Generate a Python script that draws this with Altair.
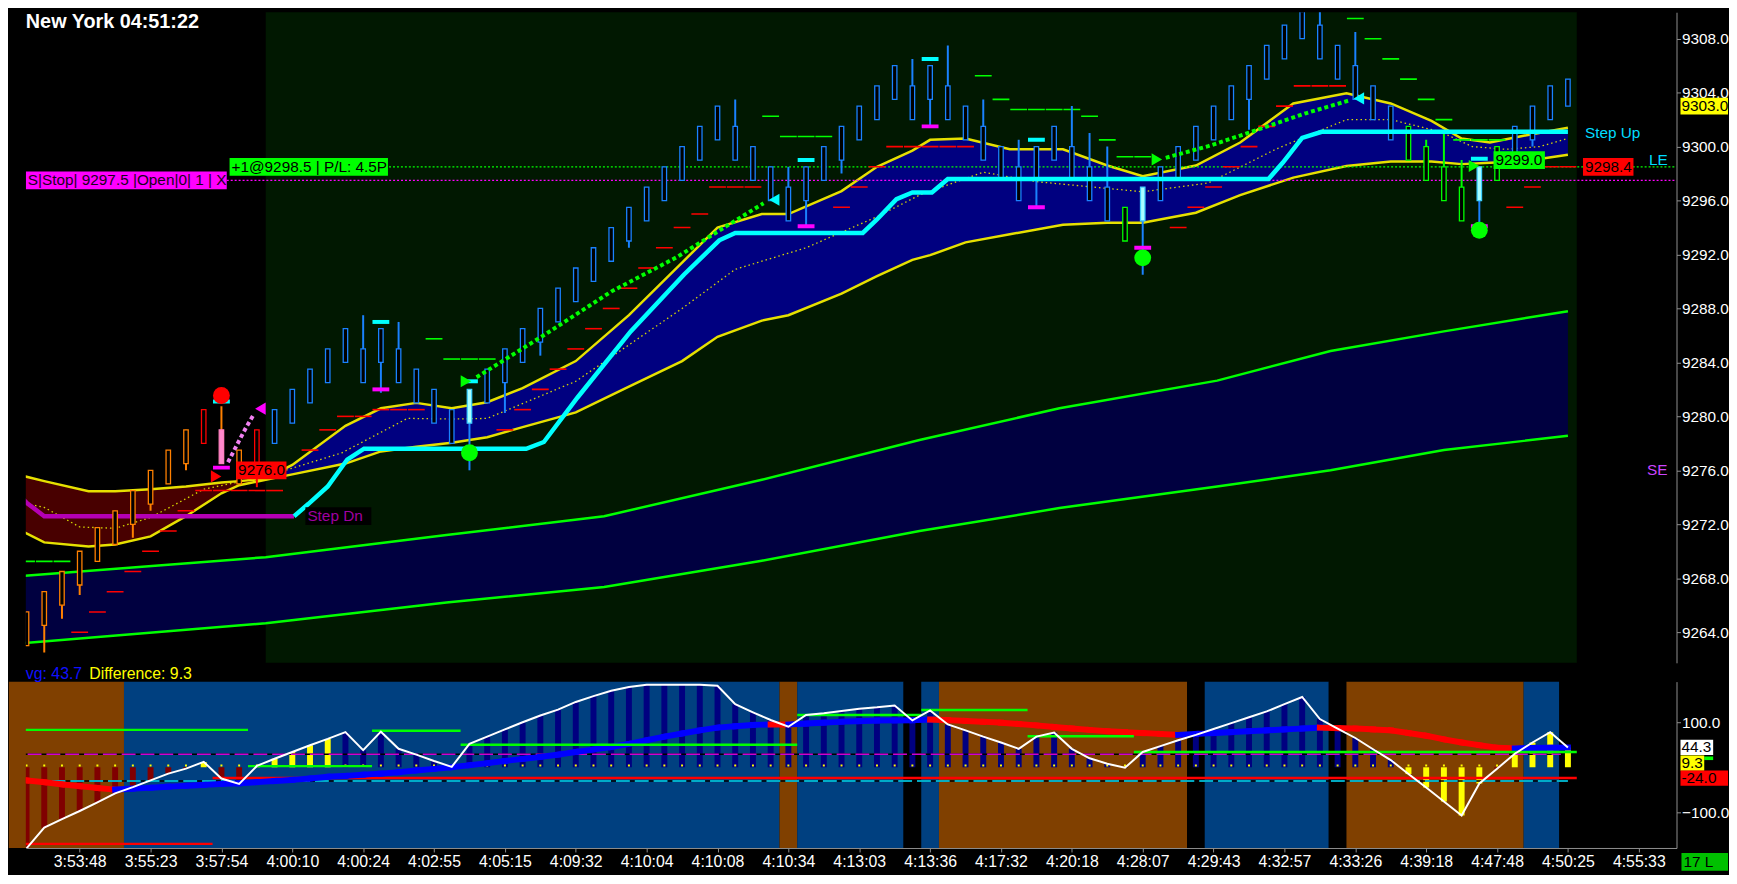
import altair as alt
import pandas as pd

FONT = "Liberation Sans"
PLOT_W = 1667
PRICE_H = 657
OSC_H = 168

# time axis: one label every 4 range bars
tick_bars = [4, 8, 12, 16, 20, 24, 28, 32, 36, 40, 44, 48, 52, 56, 60, 64, 68, 72, 76, 80, 84, 88, 92]
tick_labels = ["3:53:48", "3:55:23", "3:57:54", "4:00:10", "4:00:24", "4:02:55", "4:05:15",
               "4:09:32", "4:10:04", "4:10:08", "4:10:34", "4:13:03", "4:13:36", "4:17:32",
               "4:20:18", "4:28:07", "4:29:43", "4:32:57", "4:33:26", "4:39:18", "4:47:48",
               "4:50:25", "4:55:33"]
price_ticks = [9264, 9268, 9272, 9276, 9280, 9284, 9288, 9292, 9296, 9300, 9304, 9308]
osc_ticks = [-100, 100]

# ---- price bars
bar_j = list(range(1, 89))
bar_open = [9263.0, 9264.5, 9266.0, 9267.5, 9269.25, 9270.5, 9272.0, 9273.5, 9275.0, 9276.5,
            9278.0, 9276.5, 9275.0, 9276.5, 9278.0, 9279.5, 9281.0, 9282.5, 9284.0, 9282.5,
            9284.0, 9282.5, 9281.0, 9279.5, 9278.0, 9279.5, 9281.0, 9282.5, 9284.0, 9285.5,
            9287.0, 9288.5, 9290.0, 9291.5, 9293.0, 9294.5, 9296.0, 9297.5, 9299.0, 9300.5,
            9299.0, 9297.5, 9296.0, 9294.5, 9296.0, 9297.5, 9299.0, 9300.5, 9302.0, 9303.5,
            9302.0, 9303.5, 9302.0, 9300.5, 9299.0, 9297.5, 9296.0, 9297.5, 9299.0, 9297.5,
            9296.0, 9294.5, 9293.0, 9294.5, 9296.0, 9297.5, 9299.0, 9300.5, 9302.0, 9303.5,
            9305.0, 9306.5, 9308.0, 9306.5, 9305.0, 9303.5, 9302.0, 9300.5, 9299.0, 9297.5,
            9296.0, 9294.5, 9296.0, 9297.5, 9299.0, 9300.5, 9302.0, 9303.0]
bar_close = [9265.5, 9267.0, 9268.5, 9270.0, 9271.75, 9273.0, 9274.5, 9276.0, 9277.5, 9279.0,
             9280.5, 9279.0, 9277.5, 9279.0, 9280.5, 9282.0, 9283.5, 9285.0, 9286.5, 9285.0,
             9286.5, 9285.0, 9283.5, 9282.0, 9280.5, 9282.0, 9283.5, 9285.0, 9286.5, 9288.0,
             9289.5, 9291.0, 9292.5, 9294.0, 9295.5, 9297.0, 9298.5, 9300.0, 9301.5, 9303.0,
             9301.5, 9300.0, 9298.5, 9297.0, 9298.5, 9300.0, 9301.5, 9303.0, 9304.5, 9306.0,
             9304.5, 9306.0, 9304.5, 9303.0, 9301.5, 9300.0, 9298.5, 9300.0, 9301.5, 9300.0,
             9298.5, 9297.0, 9295.5, 9297.0, 9298.5, 9300.0, 9301.5, 9303.0, 9304.5, 9306.0,
             9307.5, 9309.0, 9310.5, 9309.0, 9307.5, 9306.0, 9304.5, 9303.0, 9301.5, 9300.0,
             9298.5, 9297.0, 9298.5, 9300.0, 9301.5, 9303.0, 9304.5, 9305.0]
bar_high = [9265.5, 9267.0, 9268.5, 9270.0, 9271.75, 9273.0, 9274.5, 9276.0, 9277.5, 9279.0,
            9280.5, 9280.75, 9277.5, 9279.0, 9280.5, 9282.0, 9283.5, 9285.0, 9286.5, 9287.5,
            9286.5, 9287.0, 9283.5, 9282.0, 9280.5, 9282.0, 9283.5, 9285.0, 9286.5, 9288.0,
            9289.5, 9291.0, 9292.5, 9294.0, 9295.5, 9297.0, 9298.5, 9300.0, 9301.5, 9303.0,
            9303.5, 9300.0, 9298.5, 9298.5, 9298.5, 9300.0, 9301.5, 9303.0, 9304.5, 9306.0,
            9306.5, 9306.0, 9307.5, 9303.0, 9303.5, 9300.0, 9300.5, 9300.0, 9301.5, 9303.0,
            9301.0, 9300.0, 9295.5, 9297.0, 9298.5, 9300.0, 9301.5, 9303.0, 9304.5, 9306.0,
            9307.5, 9309.0, 9310.5, 9311.5, 9307.5, 9308.5, 9304.5, 9303.0, 9301.5, 9300.5,
            9301.0, 9299.0, 9298.5, 9300.0, 9301.5, 9303.0, 9304.5, 9305.0]
bar_low = [9263.0, 9262.5, 9265.0, 9266.75, 9269.25, 9270.5, 9271.0, 9273.0, 9275.0, 9276.0,
           9278.0, 9276.5, 9275.0, 9274.75, 9278.0, 9279.5, 9281.0, 9282.5, 9284.0, 9282.5,
           9281.75, 9282.5, 9281.0, 9279.5, 9278.0, 9276.0, 9281.0, 9280.25, 9284.0, 9284.5,
           9287.0, 9288.5, 9290.0, 9291.5, 9292.5, 9294.5, 9296.0, 9297.5, 9299.0, 9300.5,
           9299.0, 9297.5, 9296.0, 9294.5, 9294.0, 9297.5, 9298.0, 9300.5, 9302.0, 9303.5,
           9302.0, 9301.5, 9302.0, 9300.5, 9299.0, 9297.5, 9296.0, 9295.5, 9299.0, 9297.5,
           9296.0, 9294.5, 9293.0, 9290.5, 9296.0, 9297.5, 9299.0, 9300.5, 9302.0, 9301.25,
           9305.0, 9306.5, 9308.0, 9306.5, 9305.0, 9303.5, 9302.0, 9300.5, 9299.0, 9297.5,
           9296.0, 9294.5, 9294.25, 9297.5, 9299.0, 9300.0, 9302.0, 9303.0]
bar_state = (["pre"] * 10 + ["dn", "sx", "pre", "dn"] + ["up"] * 11 + ["lx"] + ["up"] * 36
             + ["pb", "lx"] + ["up"] * 14 + ["pb"] * 4 + ["lx", "pb"] + ["up"] * 4)

# ---- fast channel (yellow) and its middle line
kc_j = [0, 2, 4.5, 6, 8, 10, 12, 13, 14.5, 16, 19, 21, 23, 25, 27, 29, 32, 35, 38, 40,
        42.5, 44, 47, 49, 51, 52, 54, 56.5, 59.5, 62, 64, 67, 69.5, 72.5, 75.5, 78, 80.3, 82, 83.6, 85.5, 88]
kc_hi = [9275.85, 9275.2, 9274.45, 9274.45, 9274.6, 9274.8, 9275.1, 9275.2, 9275.4, 9276.4,
         9279.3, 9280.6, 9281.0, 9280.6, 9281.05, 9282.1, 9284.1, 9287.5, 9291.4, 9294.0,
         9295.0, 9295.0, 9296.7, 9298.5, 9299.7, 9300.5, 9300.6, 9299.8, 9299.8, 9298.6,
         9297.8, 9298.6, 9300.3, 9303.2, 9303.95, 9303.2, 9301.9, 9300.6, 9300.3, 9300.8, 9301.4]
kc_lo = [9271.98, 9270.66, 9270.35, 9270.5, 9271.1, 9272.6, 9274.3, 9274.9, 9275.3, 9275.7,
         9276.5, 9277.4, 9277.75, 9278.05, 9278.45, 9279.2, 9280.3, 9282.2, 9284.1, 9285.9,
         9287.1, 9287.5, 9289.1, 9290.4, 9291.6, 9291.95, 9292.9, 9293.5, 9294.2, 9294.35,
         9294.35, 9295.1, 9296.4, 9297.7, 9298.56, 9298.9, 9298.9, 9298.7, 9298.8, 9298.9, 9299.4]
mid_j = [0, 2, 4, 6, 8, 11, 14.5, 18.8, 22.5, 25, 27, 32, 38, 41, 45, 49, 51.4, 55, 58, 64,
         67.7, 71.5, 75.5, 78, 80.8, 82.6, 84.5, 86.4, 88]
mid_p = [9273.8, 9273.25, 9271.8, 9271.7, 9272.5, 9274.6, 9275.55, 9277.3, 9279.85, 9279.8,
         9279.85, 9282.6, 9288.0, 9290.9, 9292.5, 9294.8, 9296.4, 9298.1, 9297.4, 9296.65,
         9297.3, 9299.8, 9302.0, 9302.0, 9301.1, 9300.0, 9299.8, 9300.0, 9300.6]
regime_switch = 14.5
session_end = 88.5

# ---- slow channel (green)
sb_j = [0, 14.5, 24.7, 33.6, 42.5, 51.4, 59.3, 68.2, 74.6, 81, 88]
sb_hi = [9268.1, 9269.56, 9271.2, 9272.6, 9275.3, 9278.25, 9280.6, 9282.65, 9284.85, 9286.3, 9287.8]
sb_lo = [9263.1, 9264.66, 9266.2, 9267.35, 9269.3, 9271.5, 9273.2, 9274.8, 9276.0, 9277.5, 9278.56]

# ---- trailing steps
step_dn_j = [0, 1.0, 2.0, 16.1]
step_dn_p = [9274.9, 9273.6, 9272.6, 9272.6]
step_up_j = [16.1, 16.9, 18.0, 19.1, 20.05, 29.2, 30.2, 32.1, 35.1, 38.1, 40.1, 41.0, 48.2, 49.0,
             50.1, 51.0, 52.1, 53.0, 71.1, 71.9, 73.0, 74.1, 88.0]
step_up_p = [9272.6, 9273.5, 9274.8, 9276.8, 9277.6, 9277.6, 9278.1, 9281.4, 9286.3, 9290.5,
             9293.05, 9293.6, 9293.6, 9294.6, 9296.1, 9296.6, 9296.6, 9297.6, 9297.6, 9298.8,
             9300.64, 9301.1, 9301.1]

# ---- prior-bar levels
red_dash_j = [4, 5, 6, 7, 8, 9, 10, 11, 12, 13, 14, 15, 17, 18, 19, 20, 21, 22, 23,
              28, 29, 30, 31, 32, 33, 34, 35, 36, 37, 38, 39, 40, 41, 42, 47, 48, 49, 50, 51, 52, 53, 54,
              66, 67, 68, 69, 70, 71, 72, 73, 74, 75, 85, 86, 87, 88]
red_dash_p = [9264.0, 9265.5, 9267.0, 9268.5, 9270.0, 9271.5, 9273.0, 9274.5, 9274.5, 9274.5, 9274.5, 9274.5,
              9277.5, 9279.0, 9280.0, 9280.0, 9280.5, 9280.5, 9280.5,
              9279.0, 9280.5, 9282.0, 9283.5, 9285.0, 9286.5, 9288.0, 9289.5, 9291.0, 9292.5, 9294.0,
              9295.0, 9297.0, 9297.0, 9297.0, 9295.5, 9297.0, 9298.5, 9300.0, 9300.0, 9300.0, 9300.0, 9300.0,
              9294.0, 9295.5, 9297.0, 9298.5, 9300.0, 9301.5, 9303.0, 9304.5, 9304.5, 9304.5,
              9295.5, 9297.0, 9298.5, 9298.5]
green_dash_j = [0, 1, 2, 3, 24, 25, 26, 27, 43, 44, 45, 46, 55, 56, 57, 58, 59, 60, 61, 62, 63, 64,
                76, 77, 78, 79, 80, 81, 82, 83, 84]
green_dash_p = [9270.75, 9269.25, 9269.25, 9269.25, 9285.75, 9284.25, 9284.25, 9284.25,
                9302.25, 9300.75, 9300.75, 9300.75, 9305.25, 9303.5, 9302.75, 9302.75, 9302.75,
                9302.75, 9302.25, 9300.5, 9299.25, 9299.25,
                9309.5, 9308.0, 9306.5, 9305.0, 9303.5, 9302.0, 9300.5, 9300.5, 9300.5]

# ---- signal markers
hi_mark_j = [12, 21, 26, 45, 52, 58, 83]
hi_mark_p = [9281.1, 9287.0, 9282.6, 9299.0, 9306.5, 9300.5, 9299.1]
lo_mark_j = [12, 21, 45, 52, 58, 64, 83]
lo_mark_p = [9276.2, 9282.0, 9294.1, 9301.5, 9295.5, 9292.5, 9294.1]
dot_j = [12, 26, 64, 83]
dot_p = [9281.55, 9277.3, 9291.75, 9293.8]
dot_side = ["short", "long", "long", "long"]
tri_j = [11.7, 14.2, 25.8, 43.2, 64.8, 76.2, 82.7]
tri_p = [9275.55, 9280.57, 9282.6, 9296.06, 9299.05, 9303.57, 9298.56]
tri_kind = ["short_in", "short_tgt", "long_in", "long_tgt", "long_in", "long_tgt", "long_in"]
arrow_path = [0, 0, 0, 0, 0, 0, 1, 1, 1, 1, 1, 2, 2, 2, 2]
arrow_side = ["long"] * 11 + ["short"] * 4
arrow_j = [26.4, 30.3, 34.0, 37.7, 40.5, 42.6, 65.3, 67.7, 70.5, 73.2, 75.6, 12.37, 13.0, 13.4, 13.85]
arrow_p = [9282.9, 9286.1, 9289.25, 9291.8, 9294.1, 9295.8, 9299.17, 9300.03, 9301.25, 9302.47,
           9303.4, 9276.6, 9278.2, 9279.2, 9280.2]

# ---- order lines and tags
order_start = [12.3, 21.46]
order_p = [9297.5, 9298.5]
order_kind = ["stop", "entry"]
box_text = ["S|Stop| 9297.5 |Open|0| 1 | X", "+1@9298.5 | P/L: 4.5P", "9276.0", "9299.0", "9298.4", "Step Dn"]
box_j0 = [0.96, 12.46, 12.83, 83.8, 88.85, 16.74]
box_j1 = [12.3, 21.4, 15.67, 86.7, 91.7, 20.46]
box_p = [9297.5, 9298.5, 9276.0, 9299.0, 9298.5, 9272.6]
box_kind = ["stop", "entry", "sell", "buy", "sell", "step"]
note_text = ["Step Up", "LE", "SE"]
note_j = [88.96, 92.57, 92.46]
note_p = [9301.0, 9299.0, 9276.0]
note_kind = ["up", "up", "dn"]
last_price = 9303.0

# ---- oscillator
osc_j = list(range(0, 89))
osc_val = [-192, -180, -134, -115, -97, -78, -58, -44, -29, -14,
           -3, 12, -25, -37, 3, 19, 34, 49, 63, 78,
           38, 79, 41, 28, 14, 1, 52, 68, 84, 100,
           115, 128, 145, 158, 170, 178, 183, 183, 183, 183,
           181, 140, 122, 105, 90, 116, 120, 125, 130, 133,
           137, 104, 126, 95, 82, 68, 55, 41, 68, 77,
           41, 20, 8, -1, 34, 47, 60, 72, 85, 98,
           111, 124, 140, 156, 107, 86, 65, 40, 16, -15,
           -45, -76, -107, -36, -3, 30, 55, 78, 44]
hist_state = (["neg"] * 11 + ["hot"] + ["neg"] * 2 + ["hot"] * 5 + ["pos"] * 60
              + ["hot"] * 5 + ["neg"] + ["hot"] * 4)
avg_val = [-24, -29, -33, -38, -42, -46, -49.5, -47.5, -45.5, -43,
           -41, -39, -37, -35.5, -33, -30.5, -28, -25, -21, -19,
           -16.5, -14, -11, -7, -3.5, 0, 4.5, 9, 14, 18.5,
           23, 28, 34, 39.5, 45, 52, 60, 68, 75, 82,
           88, 91, 94, 95, 95, 97, 99, 101, 102.5, 103.7,
           104, 104.5, 106, 104.5, 103, 101, 99, 96, 93, 89.5,
           86, 83, 80, 78, 76, 74, 72, 74, 76, 78,
           80, 82, 84, 86, 88, 87, 86, 84, 82, 76,
           70, 62, 55, 49, 43.5, 42, 43, 43.5, 44]
avg_state = (["dn"] * 7 + ["up"] * 37 + ["dn"] + ["up"] * 8 + ["dn"] * 14 + ["up"] * 8
             + ["dn"] * 11 + ["up"] * 3)
bg_start = [0, 6.5, 43.5, 44.5, 50.5, 51.5, 52.5, 66.5, 67.5, 74.5, 75.5, 85.5]
bg_end = [6.5, 43.5, 44.5, 50.5, 51.5, 52.5, 66.5, 67.5, 74.5, 75.5, 85.5, 87.5]
bg_state = ["dn", "up", "dn", "up", "flat", "up", "dn", "flat", "up", "flat", "dn", "up"]
lvl_start = [0, 13.5, 20.5, 25.5, 44.5, 51.5, 57.5, 63.5, 11.5, 0]
lvl_end = [13.5, 20.5, 25.5, 44.5, 51.5, 57.5, 63.5, 88.5, 88.5, 11.5]
lvl_val = [83, 2.6, 81, 50, 116, 127, 69, 34, -24, -170]
lvl_kind = ["grn"] * 8 + ["red", "red"]
guide_start = [0, 1.35]
guide_end = [87.6, 88]
guide_val = [29, -30.3]
guide_kind = ["mag", "cyan"]

xs = alt.Scale(domain=[1.239, 93.85], nice=False, zero=False)
ps = alt.Scale(domain=[9261.73, 9309.96], nice=False, zero=False)
vs = alt.Scale(domain=[-179.1, 190.1], nice=False, zero=False)

axis_style = dict(labelColor="#ffffff", labelFont=FONT, tickColor="#909090",
                  domainColor="#909090", tickSize=4, grid=False, title="")
p_axis = alt.Axis(orient="right", values=price_ticks, format=".1f", labelFontSize=15.5, labelPadding=1,
                  **axis_style)
v_axis = alt.Axis(orient="right", values=osc_ticks, format=".1f", labelFontSize=15.5, labelPadding=1,
                  **axis_style)
label_expr = "[" + ",".join(f"'{t}'" for t in tick_labels) + "][datum.value / 4 - 1]"
x_axis = alt.Axis(values=tick_bars, labelExpr=label_expr, labelOverlap=False, labelFlush=False,
                  labelFontSize=16, labelPadding=2, **axis_style)


# every layer of a panel carries the same axis definition so the shared axis survives the merge
def XP(field):
    return alt.X(f"{field}:Q", scale=xs, axis=None)


def XO(field):
    return alt.X(f"{field}:Q", scale=xs, axis=x_axis)


def P(field):
    return alt.Y(f"{field}:Q", scale=ps, axis=p_axis)


def V(field):
    return alt.Y(f"{field}:Q", scale=vs, axis=v_axis)


def cat(field, channel, mapping):
    return channel(f"{field}:N", scale=alt.Scale(domain=list(mapping), range=list(mapping.values())), legend=None)


def tag(label, value, yenc, x0, x1, half, fill, size=15.5):
    df = pd.DataFrame({"label": [label], "v": [value], "top": [value + half], "bot": [value - half]})
    box = alt.Chart(df).mark_rect(color=fill).encode(
        x=alt.value(x0), x2=alt.value(x1), y=yenc("top"), y2="bot:Q")
    txt = alt.Chart(df).mark_text(align="left", baseline="middle", font=FONT, fontSize=size,
                                  color="#000000", dx=1).encode(
        x=alt.value(x0), y=yenc("v"), text="label:N")
    return [box, txt]


# ================= price panel
session = alt.Chart(pd.DataFrame({"s": [regime_switch], "e": [session_end]})).mark_rect(color="#011801").encode(
    x=XP("s"), x2="e:Q", y=alt.value(0), y2=alt.value(PRICE_H))

sb = pd.DataFrame({"j": sb_j, "hi": sb_hi, "lo": sb_lo})
sb_fill = alt.Chart(sb).mark_area(color="#000040", clip=True).encode(x=XP("j"), y=P("hi"), y2="lo:Q")
sb_hi_line = alt.Chart(sb).mark_line(color="#00ff00", strokeWidth=2.5, clip=True).encode(x=XP("j"), y=P("hi"))
sb_lo_line = alt.Chart(sb).mark_line(color="#00ff00", strokeWidth=2.5, clip=True).encode(x=XP("j"), y=P("lo"))

kc = pd.DataFrame({"j": kc_j, "hi": kc_hi, "lo": kc_lo})
kc_short = alt.Chart(kc[kc.j <= regime_switch]).mark_area(color="#480000", clip=True).encode(
    x=XP("j"), y=P("hi"), y2="lo:Q")
kc_long = alt.Chart(kc[kc.j >= regime_switch]).mark_area(color="#000080", clip=True).encode(
    x=XP("j"), y=P("hi"), y2="lo:Q")
kc_hi_line = alt.Chart(kc).mark_line(color="#e6e000", strokeWidth=2.5, clip=True).encode(x=XP("j"), y=P("hi"))
kc_lo_line = alt.Chart(kc).mark_line(color="#e6e000", strokeWidth=2.5, clip=True).encode(x=XP("j"), y=P("lo"))
kc_mid = alt.Chart(pd.DataFrame({"j": mid_j, "p": mid_p})).mark_line(
    color="#d8d800", strokeWidth=1.3, strokeDash=[1.5, 3], clip=True).encode(x=XP("j"), y=P("p"))

orders = pd.DataFrame({"j": order_start, "p": order_p, "kind": order_kind})
order_lines = alt.Chart(orders).mark_rule(strokeWidth=1.2, strokeDash=[2, 2], clip=True).encode(
    x=XP("j"), x2=alt.value(PLOT_W), y=P("p"),
    color=cat("kind", alt.Color, {"stop": "#ff00ff", "entry": "#00ff00"}))

step_dn = alt.Chart(pd.DataFrame({"j": step_dn_j, "p": step_dn_p})).mark_line(
    color="#b400b4", strokeWidth=4.5, clip=True).encode(x=XP("j"), y=P("p"))

red_dash = alt.Chart(pd.DataFrame({"j": red_dash_j, "p": red_dash_p})).mark_tick(
    orient="horizontal", size=17, thickness=1.6, color="#ff0000", opacity=1, clip=True).encode(x=XP("j"), y=P("p"))
green_dash = alt.Chart(pd.DataFrame({"j": green_dash_j, "p": green_dash_p})).mark_tick(
    orient="horizontal", size=17, thickness=1.6, color="#00ff00", opacity=1, clip=True).encode(x=XP("j"), y=P("p"))

candles = pd.DataFrame({"j": bar_j, "o": bar_open, "h": bar_high, "l": bar_low, "c": bar_close,
                        "state": bar_state})
wick_col = {"pre": "#ff8000", "dn": "#ff0000", "sx": "#ff8000", "up": "#1a82ff", "pb": "#00ff00", "lx": "#1a82ff"}
edge_col = {"pre": "#ff8000", "dn": "#ff0000", "sx": "#ff80c0", "up": "#1a82ff", "pb": "#00ff00", "lx": "#40d0ff"}
body_col = {"pre": "#000000", "dn": "#000000", "sx": "#ff88cc", "up": "#000000", "pb": "#000000", "lx": "#a8ffff"}
wicks = alt.Chart(candles).mark_rule(strokeWidth=2, clip=True).encode(
    x=XP("j"), y=P("l"), y2="h:Q", color=cat("state", alt.Color, wick_col))
bodies = alt.Chart(candles).mark_bar(size=4.5, strokeWidth=1.3, clip=True).encode(
    x=XP("j"), y=P("o"), y2="c:Q", fill=cat("state", alt.Fill, body_col), stroke=cat("state", alt.Stroke, edge_col))

step_up = alt.Chart(pd.DataFrame({"j": step_up_j, "p": step_up_p})).mark_line(
    color="#00ffff", strokeWidth=4.5, clip=True).encode(x=XP("j"), y=P("p"))

hi_marks = alt.Chart(pd.DataFrame({"j": hi_mark_j, "p": hi_mark_p})).mark_tick(
    orient="horizontal", size=17, thickness=4, color="#00ffff", opacity=1, clip=True).encode(x=XP("j"), y=P("p"))
lo_marks = alt.Chart(pd.DataFrame({"j": lo_mark_j, "p": lo_mark_p})).mark_tick(
    orient="horizontal", size=17, thickness=4, color="#ff00ff", opacity=1, clip=True).encode(x=XP("j"), y=P("p"))

arrows = alt.Chart(pd.DataFrame({"j": arrow_j, "p": arrow_p, "path": arrow_path, "side": arrow_side})).mark_line(
    strokeWidth=4, strokeDash=[4, 3], clip=True).encode(
    x=XP("j"), y=P("p"), detail="path:N", color=cat("side", alt.Color, {"long": "#00ff00", "short": "#f080f0"}))
tris = alt.Chart(pd.DataFrame({"j": tri_j, "p": tri_p, "kind": tri_kind})).mark_point(
    filled=True, size=150, opacity=1, clip=True).encode(
    x=XP("j"), y=P("p"),
    color=cat("kind", alt.Color, {"short_in": "#ff0000", "short_tgt": "#ff00ff", "long_in": "#00ff00", "long_tgt": "#00ffff"}),
    shape=cat("kind", alt.Shape, {"short_in": "triangle-right", "short_tgt": "triangle-left",
                                  "long_in": "triangle-right", "long_tgt": "triangle-left"}))
dots = alt.Chart(pd.DataFrame({"j": dot_j, "p": dot_p, "side": dot_side})).mark_circle(
    size=290, opacity=1, clip=True).encode(
    x=XP("j"), y=P("p"), color=cat("side", alt.Color, {"long": "#00ff00", "short": "#ff0000"}))

boxes = pd.DataFrame({"j0": box_j0, "j1": box_j1, "p": box_p, "text": box_text, "kind": box_kind})
boxes["top"] = boxes.p + 0.66
boxes["bot"] = boxes.p - 0.66
box_fill = {"stop": "#ff00ff", "entry": "#00ff00", "sell": "#ff0000", "buy": "#00ff00", "step": "#000000"}
box_ink = {"stop": "#1a001a", "entry": "#000000", "sell": "#000000", "buy": "#000000", "step": "#a000a0"}
box_rects = alt.Chart(boxes).mark_rect(clip=True).encode(
    x=XP("j0"), x2="j1:Q", y=P("top"), y2="bot:Q", color=cat("kind", alt.Color, box_fill))
box_texts = alt.Chart(boxes).mark_text(align="left", baseline="middle", dx=2, font=FONT, fontSize=15.5,
                                       clip=True).encode(
    x=XP("j0"), y=P("p"), text="text:N", color=cat("kind", alt.Color, box_ink))
notes = alt.Chart(pd.DataFrame({"j": note_j, "p": note_p, "t": note_text, "kind": note_kind})).mark_text(
    align="left", baseline="middle", font=FONT, fontSize=15.5, clip=True).encode(
    x=XP("j"), y=P("p"), text="t:N", color=cat("kind", alt.Color, {"up": "#00dcff", "dn": "#cc44ff"}))

title = alt.Chart(pd.DataFrame({"t": ["New York 04:51:22"]})).mark_text(
    align="left", baseline="top", font=FONT, fontSize=20, fontWeight="bold", color="#ffffff").encode(
    x=alt.value(0), y=alt.value(0), text="t:N")

price = alt.layer(
    session, sb_fill, sb_hi_line, sb_lo_line, kc_short, kc_long, kc_hi_line, kc_lo_line, kc_mid,
    order_lines, step_dn, red_dash, green_dash, wicks, bodies, step_up, hi_marks, lo_marks,
    arrows, tris, dots, box_rects, box_texts, notes, title,
    *tag(f"{last_price:.1f}", last_price, P, 1671, 1719, 0.62, "#ffff00"),
).resolve_scale(color="independent", fill="independent", stroke="independent", shape="independent"
).properties(width=PLOT_W, height=PRICE_H)

# ================= oscillator panel
bg = alt.Chart(pd.DataFrame({"s": bg_start, "e": bg_end, "state": bg_state})).mark_rect().encode(
    x=XO("s"), x2="e:Q", y=alt.value(0), y2=alt.value(OSC_H),
    color=cat("state", alt.Color, {"up": "#004080", "dn": "#804000", "flat": "#000000"}))

osc = pd.DataFrame({"j": osc_j, "v": osc_val, "hs": hist_state})
hist = alt.Chart(osc).mark_bar(size=6, clip=True).encode(
    x=XO("j"), y=V("v"), y2=alt.datum(0),
    color=cat("hs", alt.Color, {"neg": "#800000", "pos": "#000080", "hot": "#ffff00"}))
zero_dots = alt.Chart(osc).mark_point(shape="square", size=4, filled=True, opacity=1, color="#ffff00",
                                      clip=True).encode(x=XO("j"), y=alt.datum(4))

guides = pd.DataFrame({"s": guide_start, "e": guide_end, "v": guide_val, "kind": guide_kind})
guide_base = alt.Chart(guides).mark_rule(strokeWidth=1.5, color="#000000", clip=True).encode(
    x=XO("s"), x2="e:Q", y=V("v"))
guide_dash = alt.Chart(guides).mark_rule(strokeWidth=1.5, strokeDash=[14, 5], clip=True).encode(
    x=XO("s"), x2="e:Q", y=V("v"), color=cat("kind", alt.Color, {"mag": "#d000d0", "cyan": "#00e0ff"}))

lvls = pd.DataFrame({"s": lvl_start, "e": lvl_end, "v": lvl_val, "kind": lvl_kind})
red_lvls = alt.Chart(lvls[lvls.kind == "red"]).mark_rule(strokeWidth=2.5, color="#ff0000", clip=True).encode(
    x=XO("s"), x2="e:Q", y=V("v"))
grn_lvls = alt.Chart(lvls[lvls.kind == "grn"]).mark_rule(strokeWidth=2.5, color="#00ff00", clip=True).encode(
    x=XO("s"), x2="e:Q", y=V("v"))

seg = pd.DataFrame({"j": osc_j[:-1], "j2": osc_j[1:], "a": avg_val[:-1], "a2": avg_val[1:],
                    "state": avg_state[1:]})
avg_line = alt.Chart(seg).mark_rule(strokeWidth=6, strokeCap="square", clip=True).encode(
    x=XO("j"), x2="j2:Q", y=V("a"), y2="a2:Q",
    color=cat("state", alt.Color, {"up": "#0000ff", "dn": "#ff0000"}))
white = alt.Chart(osc).mark_line(color="#ffffff", strokeWidth=2, clip=True).encode(x=XO("j"), y=V("v"))

hdr = pd.DataFrame({"t": ["vg: 43.7", "Difference: 9.3"]})
hdr_avg = alt.Chart(hdr.iloc[[0]]).mark_text(align="left", baseline="middle", font=FONT, fontSize=16,
                                            color="#1010ff").encode(x=alt.value(0), y=alt.value(-8), text="t:N")
hdr_diff = alt.Chart(hdr.iloc[[1]]).mark_text(align="left", baseline="middle", font=FONT, fontSize=16,
                                             color="#ffff00").encode(x=alt.value(64), y=alt.value(-8), text="t:N")

corner = alt.Chart(pd.DataFrame({"t": ["17 L"]}))
corner_box = corner.mark_rect(color="#00c000").encode(
    x=alt.value(1672), x2=alt.value(1719), y=alt.value(OSC_H + 5), y2=alt.value(OSC_H + 23))
corner_txt = corner.mark_text(align="left", baseline="middle", font=FONT, fontSize=15.5, color="#000000").encode(
    x=alt.value(1674), y=alt.value(OSC_H + 14), text="t:N")

oscillator = alt.layer(
    bg, hist, zero_dots, guide_base, guide_dash, red_lvls, avg_line, grn_lvls, white, hdr_avg, hdr_diff,
    *tag("44.3", 44.3, V, 1671, 1704, 17, "#ffffff"),
    *tag("", 20, V, 1695, 1704, 4, "#00ff00"),
    *tag("9.3", 9.3, V, 1671, 1695, 17, "#ffff00"),
    *tag("-24.0", -24.0, V, 1671, 1719, 17, "#ff0000"),
    corner_box, corner_txt,
).resolve_scale(color="independent").properties(width=PLOT_W, height=OSC_H)

chart = alt.vconcat(price, oscillator, spacing=19).properties(padding=0, bounds="flush").configure(
    background="#000000").configure_view(strokeWidth=0)

chart.save("out.html", embed_options={"renderer": "svg", "actions": False})
